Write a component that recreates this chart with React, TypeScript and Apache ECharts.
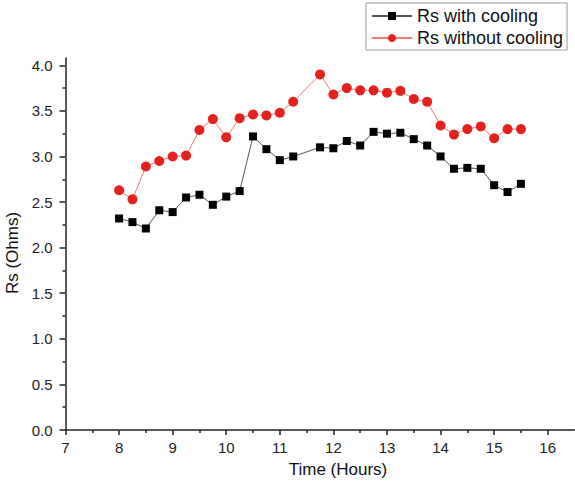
import React, { useEffect, useRef } from "react";
import * as echarts from "echarts";

const times = [8, 8.25, 8.5, 8.75, 9, 9.25, 9.5, 9.75, 10, 10.25, 10.5, 10.75, 11, 11.25, 11.75, 12, 12.25, 12.5, 12.75, 13, 13.25, 13.5, 13.75, 14, 14.25, 14.5, 14.75, 15, 15.25, 15.5];
const withCooling = [2.32, 2.28, 2.21, 2.41, 2.39, 2.55, 2.58, 2.47, 2.56, 2.62, 3.22, 3.08, 2.96, 3.0, 3.1, 3.09, 3.17, 3.12, 3.27, 3.25, 3.26, 3.19, 3.12, 3.0, 2.865, 2.875, 2.865, 2.685, 2.61, 2.7];
const withoutCooling = [2.63, 2.53, 2.89, 2.95, 3.0, 3.01, 3.29, 3.41, 3.21, 3.42, 3.46, 3.45, 3.48, 3.6, 3.9, 3.68, 3.75, 3.725, 3.725, 3.7, 3.72, 3.63, 3.6, 3.34, 3.24, 3.3, 3.33, 3.2, 3.3, 3.3];
const xTicks = [7, 8, 9, 10, 11, 12, 13, 14, 15, 16];
const xMinorTicks = [7.5, 8.5, 9.5, 10.5, 11.5, 12.5, 13.5, 14.5, 15.5];
const yTicks = [0, 0.5, 1, 1.5, 2, 2.5, 3, 3.5, 4];
const yMinorTicks = [0.25, 0.75, 1.25, 1.75, 2.25, 2.75, 3.25, 3.75];
const seriesNames = ["Rs with cooling", "Rs without cooling"];

const FONT = "Liberation Sans, Arial, sans-serif";

export default function App() {
  const ref = useRef<HTMLDivElement>(null);
  useEffect(() => {
    if (!ref.current) return;
    const chart = echarts.init(ref.current, undefined, { renderer: "svg" });
    const axisLineStyle = { color: "#222", width: 1.5 };
    const xRange = { min: 7, max: 16.5 };
    const yRange = { min: 0, max: 4.08 };
    chart.setOption({
      animation: false,
      backgroundColor: "#fff",
      textStyle: { fontFamily: FONT },
      grid: { left: 65.5, right: 0.5, top: 58, bottom: 51, containLabel: false, outerBoundsMode: "none" },
      legend: {
        orient: "vertical",
        left: 366,
        top: 3,
        padding: [4, 4, 3, 5],
        itemGap: 4,
        itemWidth: 40,
        itemHeight: 10,
        borderColor: "#999",
        borderWidth: 1,
        textStyle: { fontSize: 18, color: "#111", fontFamily: FONT },
        data: seriesNames,
      },
      xAxis: [
        {
          type: "value",
          ...xRange,
          interval: 1,
          name: "Time (Hours)",
          nameLocation: "middle",
          nameGap: 31,
          nameTextStyle: { fontSize: 17, color: "#111", fontFamily: FONT, padding: [0, 0, 0, 36] },
          axisLine: { show: true, onZero: false, lineStyle: axisLineStyle },
          axisTick: { show: true, inside: false, length: 5, customValues: xTicks, lineStyle: axisLineStyle },
          axisLabel: { customValues: xTicks, fontSize: 15, color: "#222", margin: 10, fontFamily: FONT },
          splitLine: { show: false },
        },
        {
          type: "value",
          ...xRange,
          interval: 1,
          position: "bottom",
          axisLine: { show: false, onZero: false },
          axisTick: { show: true, inside: false, length: 3, customValues: xMinorTicks, lineStyle: axisLineStyle },
          axisLabel: { show: false },
          splitLine: { show: false },
        },
      ],
      yAxis: [
        {
          type: "value",
          ...yRange,
          interval: 0.5,
          name: "Rs (Ohms)",
          nameLocation: "middle",
          nameGap: 39,
          nameTextStyle: { fontSize: 17, color: "#111", fontFamily: FONT, padding: [0, 18, 0, 0] },
          axisLine: { show: true, onZero: false, lineStyle: axisLineStyle },
          axisTick: { show: true, inside: false, length: 6, customValues: yTicks, lineStyle: axisLineStyle },
          axisLabel: {
            customValues: yTicks,
            fontSize: 15,
            color: "#222",
            margin: 13,
            fontFamily: FONT,
            formatter: (v: number) => v.toFixed(1),
          },
          splitLine: { show: false },
        },
        {
          type: "value",
          ...yRange,
          interval: 0.5,
          position: "left",
          axisLine: { show: false, onZero: false },
          axisTick: { show: true, inside: false, length: 3, customValues: yMinorTicks, lineStyle: axisLineStyle },
          axisLabel: { show: false },
          splitLine: { show: false },
        },
      ],
      series: [
        {
          name: seriesNames[0],
          type: "line",
          xAxisIndex: 0,
          yAxisIndex: 0,
          data: times.map((t, i) => [t, withCooling[i]]),
          symbol: "rect",
          symbolSize: 8,
          itemStyle: { color: "#000" },
          lineStyle: { color: "#555", width: 1 },
          z: 3,
        },
        {
          name: seriesNames[1],
          type: "line",
          xAxisIndex: 0,
          yAxisIndex: 0,
          data: times.map((t, i) => [t, withoutCooling[i]]),
          symbol: "circle",
          symbolSize: 10,
          itemStyle: { color: "#e5211c" },
          lineStyle: { color: "#ee7a76", width: 1 },
          z: 3,
        },
      ],
    });
    return () => chart.dispose();
  }, []);
  return (
    <div
      ref={ref}
      style={{ position: "fixed", left: 0, top: 0, width: 575, height: 481 }}
    />
  );
}
